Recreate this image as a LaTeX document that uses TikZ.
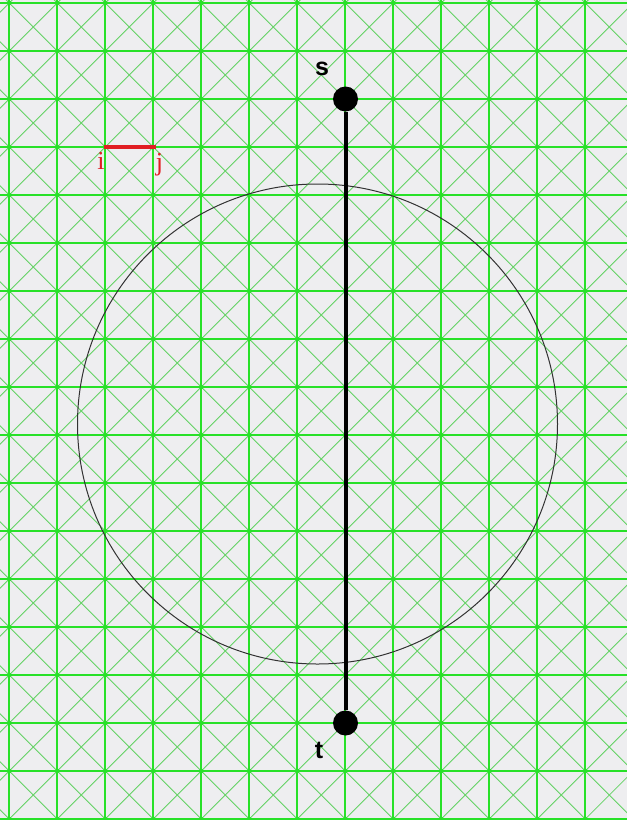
\documentclass[tikz,border=0pt]{standalone}
\usepackage{fontspec}
\newfontfamily\labelsans{Liberation Sans}
\newfontfamily\labelserif{Liberation Serif}
\definecolor{bgc}{RGB}{238,238,240}
\definecolor{mygridgreen}{RGB}{40,225,40}
\definecolor{mydiaggreen}{RGB}{100,210,100}
\definecolor{edgered}{RGB}{225,30,35}
\definecolor{circc}{RGB}{50,50,50}
\tikzset{
  gridfill/.style={fill=mygridgreen},
  diagstroke/.style={draw=mydiaggreen, line width=0.8pt},
  vertexdot/.style={circle, fill=black, inner sep=0pt, minimum size=25pt},
  pathedge/.style={draw=black, line width=4pt},
  bigcircle/.style={draw=circc, line width=1pt},
  stlabel/.style={font=\labelsans\bfseries\fontsize{25}{25}\selectfont, text=black, inner sep=0pt},
  ijlabel/.style={font=\labelserif\fontsize{26}{26}\selectfont, text=edgered, inner sep=0pt},
  rededge/.style={draw=edgered, line width=4.5pt}
}
\begin{document}
\begin{tikzpicture}[x=1pt,y=-1pt]
\fill[bgc] (0,0) rectangle (627,820);
\useasboundingbox (0,0) rectangle (627,820);
\begin{scope}
\clip (0,0) rectangle (627,820);
% diagonals
\foreach \k in {-1,...,13}{
  \foreach \l in {-1,...,17}{
    \pgfmathsetmacro{\xa}{9.3+48*\k}
    \pgfmathsetmacro{\ya}{3+48*\l}
    \draw[diagstroke] (\xa,\ya) -- ++(48,48);
    \draw[diagstroke] (\xa+48,\ya) -- ++(-48,48);
  }
}
% grid lines
\foreach \k in {0,...,12}{
  \pgfmathsetmacro{\xv}{9.3+48*\k}
  \fill[gridfill] (\xv-0.9,-2) rectangle (\xv+0.9,822);
}
\foreach \l in {0,...,17}{
  \pgfmathsetmacro{\yv}{3+48*\l}
  \fill[gridfill] (-2,\yv-0.7) rectangle (629,\yv+0.7);
}
\foreach \k in {0,...,12}{
  \foreach \l in {0,...,17}{
    \pgfmathsetmacro{\xv}{9.3+48*\k}
    \pgfmathsetmacro{\yv}{3+48*\l}
    \fill[gridfill] (\xv,\yv) circle (2.2);
  }
}
\end{scope}
% circle
\draw[bigcircle] (317.5,424) circle (240);
% red edge
\coordinate (ci) at (103.5,147);
\coordinate (cj) at (156,147);
\draw[rededge] (ci) -- (cj);
\node[ijlabel] (li) at (101,161) {i};
\node[ijlabel] (lj) at (159.5,165) {j};
% s-t path
\node[vertexdot] (s) at (345.5,99) {};
\node[vertexdot] (t) at (345.5,723) {};
\draw[pathedge] (s) -- (t);
\node[stlabel] (ls) at (322,68.5) {s};
\node[stlabel] (lt) at (319,750) {t};
\end{tikzpicture}
\end{document}
